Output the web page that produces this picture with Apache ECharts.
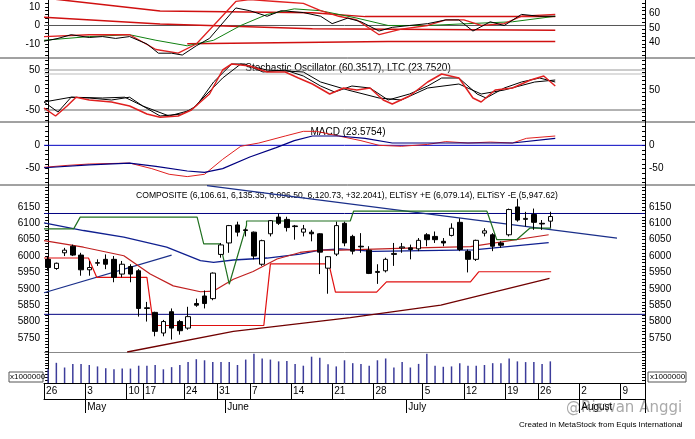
<!DOCTYPE html>
<html><head><meta charset="utf-8">
<script src="https://cdn.jsdelivr.net/npm/echarts@6/dist/echarts.min.js"></script>
<style>html,body{margin:0;padding:0;background:#fff}#c{width:695px;height:439px}</style>
</head><body><div id="c"></div>
<script>
// ---- DATA ----
const N_SLOTS = 73;
// OHLC: [open, close, low, high]
const ohlc = [
[5990,5965,5955,6000],[5962,5978,5958,5980],[6010,6018,6000,6025],[6030,6003,6000,6035],
[6003,5958,5940,6010],[5958,5965,5940,5985],[5978,5980,5970,5990],[5990,5975,5960,6005],
[5990,5935,5920,6000],[5945,5975,5935,5985],[5968,5945,5920,5975],[5955,5840,5815,5960],
[5842,5840,5800,5860],[5828,5770,5755,5830],[5765,5800,5755,5805],[5830,5780,5745,5840],
[5800,5772,5760,5805],[5780,5815,5775,5845],[5855,5850,5845,5870],[5878,5855,5840,5895],
[5870,5948,5865,5950],[6005,6034,5995,6040],[6040,6093,6010,6095],[6095,6073,6060,6105],
[6080,6078,6060,6085],[6073,6000,5990,6075],[5975,6047,5970,6050],[6068,6108,6060,6110],
[6119,6100,6095,6130],[6112,6087,6075,6120],[6092,6090,6050,6095],[6073,6083,6060,6095],
[6073,6068,6045,6080],[6068,6012,5945,6070],[5963,5998,5885,6000],[6006,6093,6000,6105],
[6100,6040,6030,6105],[6060,6015,6005,6065],[6030,6028,6010,6070],[6018,5947,5945,6030],
[5950,5953,5915,5975],[5955,5990,5950,5995],[6005,6008,5970,6040],[6025,6028,6010,6040],
[6025,6020,5990,6035],[6022,6048,6015,6055],[6065,6050,6030,6070],[6060,6050,6040,6075],
[6045,6040,6030,6055],[6063,6085,6060,6100],[6103,6020,6015,6115],[6014,5990,5950,6020],
[5990,6048,5985,6050],[6070,6077,6060,6085],[6065,6030,6015,6070],[6040,6033,6025,6045],
[6065,6142,6060,6145],[6150,6110,6105,6175],[6112,6115,6090,6135],[6127,6103,6080,6145],
[6100,6098,6080,6110],[6106.61,6120.73,6086.50,6135.35]
];
const volume = [38,56,43,53,53,50,46,41,38,40,40,48,48,50,38,44,50,58,66,63,58,58,58,50,65,81,68,65,60,61,53,48,73,70,52,46,63,55,53,48,63,68,43,58,43,53,81,48,45,46,55,48,48,50,55,55,68,60,58,58,53,60];
const dateTickIdx = [0,5,10,12,17,21,25,30,35,40,46,51,56,60,65,70];
const dateTickTxt = ['26','3','10','17','24','31','7','14','21','28','5','12','19','26','2','9'];
const monthIdx = [5,22,44,65];
const monthTxt = ['May','June','July','August'];
// right-hand scale labels of panel 1 (placed on the left scale's values)
const p1RightVals = [6.76,-1.36,-8.9];
const p1RightTxt = ['60','50','40'];
// panel 1 (oscillator) lines [slot, value]
const p1UpperBand = [[-0.5,14.9],[13.6,7.8],[32.1,6.9],[38.5,4.8],[61.6,4.8]];
const p1MidBand = [[-0.5,4.4],[13.6,0.8],[32.1,-1.8],[61.6,-2.6]];
const p1LowBand = [[16.9,-9.9],[41.3,-8.7],[61.6,-8.7]];
const p1Black = [[-0.5,-8.5],[1.2,-7],[2.8,-5],[5,-6.5],[6.6,-6],[8.2,-7],[9.9,-6],[12,-10],[13.4,-15],[15,-15],[16.3,-16],[18,-11],[19.6,-7],[22.3,7],[22.8,9.5],[24.5,8],[26.6,5],[28.3,8],[31,7],[33.1,5],[34.5,1],[36.4,4],[38,2],[40.2,-3],[41.8,-1],[43.9,0],[46.1,1],[48.3,3],[49.9,3],[51.6,-3],[53.7,2],[55.4,0],[57.5,6],[59.7,5],[61.6,5]];
const p1Red = [[-0.5,-6],[5,-5],[9.9,-5],[13.1,-13],[15.8,-15],[18,-10],[20.1,0],[22.8,13],[24.5,14],[27.7,13],[31,12],[33.1,8],[35.3,5],[37.5,3],[40.2,-5],[42.9,-2],[46.1,0],[48.3,3],[50.5,3],[52.6,0],[55.4,1],[57.5,5],[61.6,6]];
const p1Green = [[-0.5,-8],[5,-6],[9.9,-5],[13.1,-8],[16.9,-11],[20.1,-8],[23.4,0],[26.6,6],[29.9,9],[33.1,8],[37.5,4],[41.3,0],[46.1,0],[51,1],[56.4,2],[61.6,5]];
// panel 2 stochastic
const stRed = [[-0.5,-45],[0.9,-65],[2.3,-40],[3.4,-18],[5,-25],[7.7,-30],[9.9,-40],[12,-60],[13.6,-68],[15.8,-65],[17.4,-50],[19.6,-10],[21.2,50],[22.3,65],[24.5,60],[26.6,45],[28.8,45],[30.4,30],[32.1,15],[34.2,-10],[35.9,5],[37.5,0],[39.1,5],[40.7,-25],[41.8,-35],[43.9,-15],[46.1,20],[47.8,40],[49.9,30],[51.6,-20],[52.6,-30],[54.3,0],[56.4,5],[58.6,25],[60.2,35],[61.6,10]];
const stFast = [[-0.5,-30],[1.2,-55],[2.8,-18],[5,-20],[7.7,-25],[9.9,-18],[11.5,-40],[13.6,-65],[16.3,-60],[18,-40],[20.1,20],[22.3,65],[23.9,65],[26.1,45],[28.8,50],[31,35],[33.1,10],[34.8,-5],[36.9,10],[39.1,5],[41.3,-25],[43.9,-10],[46.1,10],[47.8,30],[49.9,30],[52.1,-10],[53.2,-20],[55.4,5],[57.5,20],[59.7,30],[61.6,20]];
const stSlow = [[-0.5,-30],[2.8,-18],[6.6,-20],[9.3,-18],[11.5,-40],[14.7,-65],[17.4,-50],[21.2,30],[23.4,65],[26.6,50],[31,45],[33.1,20],[36.4,0],[40.2,-20],[42.9,-25],[46.1,5],[49.9,15],[52.6,-10],[55.4,0],[59.1,20],[61.6,25]];
// panel 3 MACD
const macdRed = [[-0.5,-47],[2.3,-43],[5,-40],[9.9,-38],[12.6,-50],[14.7,-62],[16.9,-67],[19,-62],[21.2,-30],[23.4,-2],[25.6,5],[28.8,20],[31,30],[32.6,30],[35.3,20],[38,10],[40.2,0],[42.9,-2],[46.1,2],[48.3,8],[51,5],[53.7,7],[56.4,5],[58.1,15],[61.6,20]];
const macdSig = [[-0.5,-48],[5,-42],[9.9,-38],[13.1,-45],[16.9,-55],[19,-58],[21.2,-50],[24.5,-25],[27.7,-5],[29.9,10],[32.1,20],[35.3,20],[38.5,15],[41.8,5],[46.1,5],[51,5],[56.4,5],[61.6,15]];
// price panel overlays
const maBlue = [[-0.5,6101],[4.3,6078],[9.2,6058],[14.4,6027],[18.5,5986],[20.1,5981],[22.5,5988],[26.6,5994],[30.6,6006],[33,6018],[35.5,6022],[39.5,6014],[51.7,6019],[60.8,6041]];
const maRed = [[-0.5,6047],[4.3,6027],[9.2,6001],[12.4,5945],[15.2,5909],[18.5,5891],[20.1,5893],[22.5,5929],[24.9,5953],[27.8,5991],[30.6,6011],[33,6018],[35.5,6018],[43.6,6024],[51.3,6029],[60.8,6065]];
const stopMinus = [[-0.5,5994],[4.9,5994],[5.9,5935],[12.0,5935],[12.8,5788],[26.2,5788],[27,5976],[34.1,5976],[34.9,5890],[39.9,5890],[41.1,5921],[51.3,5921],[52.3,5952],[61.1,5952]];
const stopPlus = [[-0.5,6083],[3.1,6083],[3.9,6119],[18.1,6119],[18.9,6037],[20.9,6037],[22.0,5914],[24.1,6094],[24.1,6107],[36.7,6107],[37.1,6137],[53.3,6137],[54.5,6050],[56.9,6050],[58.5,6085],[61.1,6085]];
const trendDown = [[19.3,6215],[69.1,6055]];
const trendUpLeft = [[-0.5,5888],[15,6003]];
const trendLong = [[9.6,5707],[22.5,5770],[36.7,5812],[47.7,5850],[60.9,5932]];
const levelHigh = 6130, levelLow = 5822;

// ---- CHART ----
const chart = echarts.init(document.getElementById('c'));
const FONT = 'Liberation Sans, Arial, sans-serif';
const grids = [[0,58],[58,64],[122,63],[185,167],[352,31]];
const cats = [];
for (let i=0;i<N_SLOTS;i++){ const k=dateTickIdx.indexOf(i); cats.push(k>=0?dateTickTxt[k]:''); }
const mcats = [];
for (let i=0;i<N_SLOTS;i++){ const k=monthIdx.indexOf(i); mcats.push(k>=0?monthTxt[k]:''); }

const xAxis = [];
grids.forEach((g,i)=>{
  xAxis.push({type:'category',gridIndex:i,data:cats,boundaryGap:true,
    axisLine:{show:i===4,lineStyle:{color:'#000'}},
    axisTick:{show:i===4,length:16,interval:(idx)=>dateTickIdx.includes(idx),lineStyle:{color:'#000'}},
    axisLabel:{show:i===4,interval:0,align:'left',margin:3,fontSize:10,fontFamily:FONT,color:'#000',padding:[0,0,0,-2]},
    splitLine:{show:false}});
});
grids.forEach((g,i)=>{
  xAxis.push({type:'value',gridIndex:i,min:-0.5,max:N_SLOTS-0.5,show:false});
});
xAxis.push({type:'category',gridIndex:4,data:mcats,position:'bottom',offset:16,boundaryGap:true,
  axisLine:{show:true,lineStyle:{color:'#000'}},
  axisTick:{show:true,length:14,interval:(idx)=>monthIdx.includes(idx),lineStyle:{color:'#000'}},
  axisLabel:{interval:0,align:'left',margin:3,fontSize:10,fontFamily:FONT,color:'#000',padding:[0,0,0,-2]}});

function yAx(gi,min,max,vals,pos,fmt,minor){
  return {type:'value',gridIndex:gi,min,max,position:pos,
    axisLine:{show:true,lineStyle:{color:'#000'}},
    axisTick:{show:true,customValues:minor,length:3,inside:pos==='right',lineStyle:{color:'#000'}},
    axisLabel:{show:vals.length>0,customValues:vals,fontSize:10,fontFamily:FONT,color:'#000',margin:4,formatter:fmt||(v=>String(v))},
    splitLine:{show:false}};
}
function range(a,b,s){const r=[];for(let v=a;v<=b+1e-9;v+=s)r.push(+v.toFixed(3));return r;}
const yAxis = [
  yAx(0,-17.6,13.8,[-10,0,10],'left',null,range(-16,12,2)),
  yAx(1,-80,80,[-50,0,50],'left',null,range(-75,75,10)),
  yAx(2,-85,50,[-50,0],'left',null,range(-80,45,10)),
  yAx(3,5707,6217,range(5750,6150,50),'left',null,range(5710,6210,10)),
  yAx(4,0,86,[],'left',null,range(0,86,8)),
  yAx(0,-17.6,13.8,p1RightVals,'right',v=>{const k=p1RightVals.findIndex(x=>Math.abs(x-v)<1e-6);return k>=0?p1RightTxt[k]:'';},range(-16,12,2)),
  yAx(1,-80,80,[0],'right',()=>'50',range(-75,75,10)),
  yAx(2,-85,50,[-50,0],'right',null,range(-80,45,10)),
  yAx(3,5707,6217,range(5750,6150,50),'right',null,range(5710,6210,10)),
  yAx(4,0,86,[],'right',null,range(0,86,8))
];

function L(data,color,gi,w,extra){
  return Object.assign({type:'line',xAxisIndex:5+gi,yAxisIndex:gi,data,symbol:'none',silent:true,
    lineStyle:{color,width:w||1},z:3},extra||{});
}
function H(y,color,gi){ return L([[-0.5,y],[N_SLOTS-0.5,y]],color,gi,1,{z:1}); }

const series = [
  H(0,'#555',0),
  L(p1UpperBand,'#d01010',0,1.5), L(p1MidBand,'#d01010',0,1.5), L(p1LowBand,'#d01010',0,1.5),
  L(p1Green,'#108010',0), L(p1Red,'#e02020',0,1.3), L(p1Black,'#000',0),
  H(50,'#999',1), H(40,'#bbb',1), H(-50,'#666',1),
  L(stSlow,'#000',1), L(stFast,'#000',1), L(stRed,'#e02020',1,1.5),
  H(0,'#0000c0',2),
  L(macdRed,'#e02020',2), L(macdSig,'#000080',2,1.2),
  H(levelHigh,'#000080',3), H(levelLow,'#000080',3),
  L(trendDown,'#1a2f8a',3,1.2), L(trendUpLeft,'#1a2f8a',3,1.2), L(trendLong,'#700000',3,1.3),
  L(maBlue,'#102090',3,1.3), L(maRed,'#c02020',3,1.2),
  L(stopMinus,'#e01010',3,1.2), L(stopPlus,'#207020',3,1.2),
  {type:'candlestick',xAxisIndex:3,yAxisIndex:3,data:ohlc,barWidth:5,z:5,silent:true,
    itemStyle:{color:'#fff',color0:'#000',borderColor:'#000',borderColor0:'#000',borderWidth:1}},
  {type:'bar',xAxisIndex:4,yAxisIndex:4,data:volume,barWidth:1.5,silent:true,
    itemStyle:{color:'#3c3c9a'}}
];

const txt = (x,y,t,size,extra)=>Object.assign({type:'text',x,y,style:{text:t,fontSize:size,fontFamily:FONT,fill:'#000'}},extra||{});
const hline = (y,x1,x2,c)=>({type:'line',shape:{x1,y1:y,x2,y2:y},style:{stroke:c||'#444',lineWidth:1}});
const TITLE = 'COMPOSITE (6,106.61, 6,135.35, 6,096.50, 6,120.73, +32.2041), ELTiSY +E (6,079.14), ELTiSY -E (5,947.62)';
chart.setOption({
  animation:false,
  grid: grids.map(g=>({left:44,right:50,top:g[0],height:g[1],containLabel:false})),
  xAxis, yAxis, series,
  graphic:[
    hline(58,0,695), hline(122,0,695), hline(185,0,695), hline(352.5,44,645,'#888'),
    {type:'text',x:348,y:63,style:{text:'Stochastic Oscillator (60.3517), LTC (23.7520)',fontSize:10,fontFamily:FONT,fill:'#000',align:'center'}},
    {type:'text',x:348,y:127,style:{text:'MACD (23.5754)',fontSize:10,fontFamily:FONT,fill:'#000',align:'center'}},
    {type:'text',x:136,y:191,style:{text:TITLE,fontSize:8.6,fontFamily:'Liberation Sans Narrow, Liberation Sans, Arial',fill:'#000'}},
    {type:'rect',shape:{x:9,y:372,width:34,height:10},style:{fill:'#fff',stroke:'#555',lineWidth:1}},
    txt(10,373,'x1000000',8),
    {type:'rect',shape:{x:648,y:372,width:38,height:10},style:{fill:'#fff',stroke:'#555',lineWidth:1}},
    txt(650,373,'x1000000',8),
    {type:'text',x:566,y:401,style:{text:'@Riswan Anggi',fontSize:15,fontFamily:'DejaVu Sans, sans-serif',fill:'rgba(140,140,140,0.75)'}},
    txt(519,421,'Created in MetaStock from Equis International',8)
  ]
});
</script></body></html>
